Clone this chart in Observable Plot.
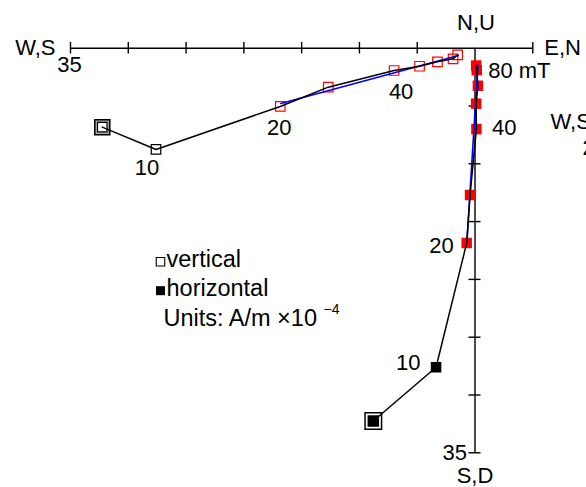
<!DOCTYPE html>
<html>
<head>
<meta charset="utf-8">
<script src="https://cdn.jsdelivr.net/npm/d3@7"></script>
<script src="https://cdn.jsdelivr.net/npm/@observablehq/plot@0.6"></script>
<style>
  body { margin: 0; background: #fff; }
  svg { display: block; }
</style>
</head>
<body>
<div id="chart"></div>
<script>
// Alternating-field demagnetisation steps (mT); NRM first
const steps = ["NRM", 10, 20, 30, 40, 50, 60, 70, 80];
// Remanence components, A/m ×10⁻⁴
const north = [-32.25, -27.6, -16.85, -12.7, -7.0, -4.8, -3.25, -1.9, -1.5];
const east  = [-8.8, -3.37, -0.72, -0.43, 0.12, 0.1, 0.25, 0.15, 0.1];
const up    = [-6.83, -8.76, -5.04, -3.37, -1.93, -1.56, -1.18, -0.92, -0.57];
// Principal component fitted to the 20–80 mT steps (end points)
const fitNorth = [-16.8, -1.45];
const fitEast  = [-0.7, 0.25];
const fitUp    = [-4.78, -0.64];
// Axis ticks
const xTicks = [-35, -30, -25, -20, -15, -10, -5, 5];
const yTicks = [-5, -10, -15, -20, -25, -30, -35];

const table = steps.map((step, i) => ({step, north: north[i], east: east[i], up: up[i]}));
const fit = fitNorth.map((n, i) => ({north: n, east: fitEast[i], up: fitUp[i]}));
const nrm = table.slice(0, 1);
const first = table.slice(1, 2);
const rest = table.slice(2);

const FS = 22;     // axis and step labels
const LFS = 23.5;  // legend
const SQ = s => s / Math.sqrt(Math.PI); // radius for a square of side s

function stepLabel(step, proj, text, opts) {
  const row = table.filter(d => d.step === step);
  return Plot.text(row, {
    x: proj === "v" ? "north" : "east",
    y: proj === "v" ? "up" : "north",
    text: () => text,
    fontSize: FS,
    lineAnchor: "middle",
    fill: "black",
    ...opts
  });
}

function frameText(str, dx, dy, opts = {}) {
  return Plot.text([str], {
    text: d => d, frameAnchor: "top-left", dx, dy,
    textAnchor: "start", lineAnchor: "middle", fontSize: FS, fill: "black", ...opts
  });
}

const chart = Plot.plot({
  width: 586,
  height: 487,
  marginLeft: 70,
  marginRight: 53.7,
  marginTop: 47.7,
  marginBottom: 34.7,
  x: {domain: [-35, 5], axis: null},
  y: {domain: [-35, 0], axis: null},
  style: {fontFamily: "'Liberation Sans', Arial, Helvetica, sans-serif", background: "#fff", overflow: "visible"},
  marks: [
    // axes through the origin
    Plot.ruleY([0], {x1: -35, x2: 5, stroke: "black", strokeWidth: 1.4}),
    Plot.ruleX([0], {y1: -35, y2: 0, stroke: "black", strokeWidth: 1.4}),
    Plot.ruleX(xTicks, {x: d => d, y1: -0.5, y2: 0.5, stroke: "black", strokeWidth: 1.4}),
    Plot.ruleY(yTicks, {y: d => d, x1: -0.52, x2: 0.52, stroke: "black", strokeWidth: 1.4}),

    // vertical projection (north vs up): open squares
    Plot.dot(nrm, {x: "north", y: "up", symbol: "square", r: SQ(15), fill: "#aaa", stroke: "black", strokeWidth: 1.5}),
    Plot.dot(nrm, {x: "north", y: "up", symbol: "square", r: SQ(9.5), fill: "white", stroke: "black", strokeWidth: 1.2}),
    Plot.dot(first, {x: "north", y: "up", symbol: "square", r: SQ(9.5), fill: "white", stroke: "black", strokeWidth: 1.2}),
    Plot.dot(rest, {x: "north", y: "up", symbol: "square", r: SQ(9.5), fill: "none", stroke: "#ff0000", strokeWidth: 1.2}),

    // horizontal projection (east vs north): filled squares
    Plot.dot(nrm, {x: "east", y: "north", symbol: "square", r: SQ(16.5), fill: "white", stroke: "black", strokeWidth: 1.5}),
    Plot.dot(nrm, {x: "east", y: "north", symbol: "square", r: SQ(11.5), fill: "black"}),
    Plot.dot(first, {x: "east", y: "north", symbol: "square", r: SQ(10.5), fill: "black"}),
    Plot.dot(rest, {x: "east", y: "north", symbol: "square", r: SQ(10.5), fill: "#ff0000"}),

    // fitted component
    Plot.line(fit, {x: "north", y: "up", stroke: "#0000ff", strokeWidth: 1.6}),
    Plot.line(fit, {x: "east", y: "north", stroke: "#0000ff", strokeWidth: 1.6}),

    // demagnetisation paths
    Plot.line(table, {x: "north", y: "up", stroke: "black", strokeWidth: 1.5}),
    Plot.line(table, {x: "east", y: "north", stroke: "black", strokeWidth: 1.5}),

    // step labels
    stepLabel(10, "v", "10", {dx: -9, dy: 18, textAnchor: "middle"}),
    stepLabel(20, "v", "20", {dx: -1, dy: 21, textAnchor: "middle"}),
    stepLabel(40, "v", "40", {dx: 7, dy: 21, textAnchor: "middle"}),
    stepLabel(10, "h", "10", {dx: -15.5, dy: -4, textAnchor: "end"}),
    stepLabel(20, "h", "20", {dx: -13, dy: 2.5, textAnchor: "end"}),
    stepLabel(40, "h", "40", {dx: 15.5, dy: -1, textAnchor: "start"}),
    stepLabel(80, "h", "80 mT", {dx: 12, dy: 5, textAnchor: "start"}),

    // axis end labels
    Plot.text(["W,S"], {x: -35, y: 0, text: d => d, textAnchor: "end", lineAnchor: "middle", dx: -15, dy: 0, fontSize: FS}),
    Plot.text(["35"], {x: -35, y: 0, text: d => d, textAnchor: "middle", lineAnchor: "middle", dx: -1, dy: 17, fontSize: FS}),
    Plot.text(["E,N"], {x: 5, y: 0, text: d => d, textAnchor: "start", lineAnchor: "middle", dx: 11.5, dy: 0, fontSize: FS}),
    Plot.text(["N,U"], {x: 0, y: 0, text: d => d, textAnchor: "middle", lineAnchor: "middle", dx: 1, dy: -25, fontSize: FS}),
    Plot.text(["S,D"], {x: 0, y: -35, text: d => d, textAnchor: "middle", lineAnchor: "middle", dx: 0, dy: 23, fontSize: FS}),
    Plot.text(["35"], {x: 0, y: -35, text: d => d, textAnchor: "end", lineAnchor: "middle", dx: -8, dy: 0, fontSize: FS}),

    // neighbouring panel's axis label at the right edge
    frameText("W,S", 480, 74),
    frameText("25", 512, 100),

    // legend
    Plot.dot([0], {frameAnchor: "top-left", dx: 90, dy: 213.5, symbol: "square", r: SQ(8.5), fill: "white", stroke: "black", strokeWidth: 1.1}),
    frameText("vertical", 96, 211.5, {fontSize: LFS}),
    Plot.dot([0], {frameAnchor: "top-left", dx: 90, dy: 242.5, symbol: "square", r: SQ(9), fill: "black"}),
    frameText("horizontal", 96, 240.5, {fontSize: LFS}),
    frameText("Units: A/m ×10", 93, 270, {fontSize: LFS}),
    frameText("−4", 253, 261, {fontSize: 14})
  ]
});

document.getElementById("chart").appendChild(chart);
</script>
</body>
</html>
